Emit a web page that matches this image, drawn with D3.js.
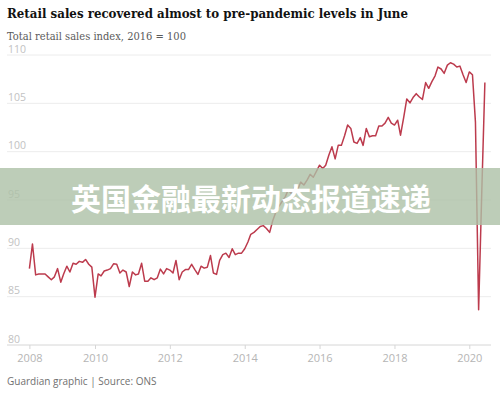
<!DOCTYPE html>
<html>
  <head>
    <meta charset="utf-8">
    <title>Retail sales</title>
    <style>
      body { margin: 0; background: #fff; }
      svg { display: block; }
    </style>
  </head>
  <body>
    <svg width="500" height="394"></svg>
    <script src="https://d3js.org/d3.v7.min.js"></script>
    <script>

    // monthly index values, first point is April 2008
    var startDate = new Date(2008, 3, 1);
    var salesIndex = [
      87.85, 90.4, 87.2, 87.3, 87.3, 87.3, 87.0, 86.7, 87.0,                  // 2008 (Apr-Dec)
      87.85, 86.45, 87.3, 88.1, 87.5, 88.4, 88.3, 88.6, 88.5, 88.8, 88.3, 88.0, // 2009
      84.9, 87.3, 87.1, 87.6, 87.7, 87.85, 88.35, 88.3, 87.4, 87.7, 87.5, 86.0, // 2010
      87.5, 87.2, 87.3, 88.4, 86.55, 86.55, 86.9, 86.7, 86.9, 87.8, 87.3, 87.85, // 2011
      87.7, 87.4, 88.7, 86.7, 87.5, 87.75, 87.75, 88.3, 87.75, 87.25, 88.1, 87.9, // 2012
      88.0, 89.2, 87.4, 87.25, 88.7, 89.3, 89.45, 89.0, 89.9, 89.3, 89.45, 89.45, // 2013
      89.9, 90.6, 91.4, 91.6, 91.9, 92.2, 92.3, 92.0, 91.6, 92.8, 93.7, 94.3,   // 2014
      94.8, 95.3, 96.0, 95.6, 96.3, 96.0, 96.8, 96.5, 97.0, 97.6, 97.3, 97.9,   // 2015
      98.55, 98.2, 98.55, 99.6, 100.45, 99.2, 100.6, 100.6, 101.6, 102.7, 102.35, 100.95, // 2016
      100.8, 101.4, 100.6, 102.35, 101.5, 101.6, 101.6, 102.6, 102.6, 102.9, 103.5, 102.9, // 2017
      102.7, 103.2, 101.65, 103.5, 105.4, 105.0, 105.55, 105.95, 105.6, 105.35, 107.1, 106.5, // 2018
      107.2, 107.8, 108.7, 108.5, 108.05, 108.9, 109.15, 109.0, 108.7, 108.8, 107.9, 107.1, // 2019
      108.2, 107.9, 103.0, 83.6, 95.5, 107.1                                   // 2020 (Jan-Jun)
    ];
    var yTicks = [80, 85, 90, 95, 100, 105, 110];
    var xTickYears = [2010, 2012, 2014, 2016, 2018, 2020];

    var title = "Retail sales recovered almost to pre-pandemic levels in June";
    var subtitle = "Total retail sales index, 2016 = 100";
    var source = "Guardian graphic | Source: ONS";
    var banner = "英国金融最新动态报道速递";

    var data = salesIndex.map(function(v, i) {
      return { date: d3.timeMonth.offset(startDate, i), value: v };
    });

    var svg = d3.select("svg");

    var x = d3.scaleTime()
        .domain([new Date(2010, 0, 1), new Date(2020, 0, 1)])
        .range([95, 469.3]);

    var y = d3.scaleLinear()
        .domain([80, 110])
        .range([344.5, 54.5]);

    var left = 7, right = 491;

    // gridlines + y labels
    var grid = svg.append("g");
    grid.selectAll("line")
      .data(yTicks.filter(function(d) { return d > 80; }))
      .enter().append("line")
        .attr("x1", left).attr("x2", right)
        .attr("y1", function(d) { return y(d) + 0.5; })
        .attr("y2", function(d) { return y(d) + 0.5; })
        .attr("stroke", "#ececec");

    grid.selectAll("text")
      .data(yTicks)
      .enter().append("text")
        .attr("x", 8)
        .attr("y", function(d) { return y(d) - 2; })
        .attr("font-family", "Open Sans, sans-serif")
        .attr("font-size", 10.5)
        .attr("fill", "#c2c2c2")
        .text(function(d) { return d; });

    // x axis (first tick sits at the start of the data)
    var xTicks = [startDate].concat(xTickYears.map(function(yr) { return new Date(yr, 0, 1); }));
    var xAxis = svg.append("g")
        .attr("transform", "translate(0," + (y(80) + 0.5) + ")")
        .call(d3.axisBottom(x).tickValues(xTicks).tickFormat(d3.timeFormat("%Y")).tickSize(4).tickPadding(5));
    xAxis.select(".domain").attr("d", "M" + left + ",0H" + right).attr("stroke", "#d6d6d6");
    xAxis.selectAll(".tick line").attr("stroke", "#d6d6d6");
    xAxis.selectAll("text")
        .attr("font-family", "Open Sans, sans-serif")
        .attr("font-size", 11)
        .attr("fill", "#b5b5b5");

    // the series
    var line = d3.line()
        .x(function(d) { return x(d.date); })
        .y(function(d) { return y(d.value); });

    svg.append("path")
        .attr("d", line(data))
        .attr("fill", "none")
        .attr("stroke", "#bc3b4d")
        .attr("stroke-width", 1.5)
        .attr("stroke-linejoin", "round");

    // titles
    svg.append("text")
        .attr("x", 7).attr("y", 18)
        .attr("font-family", "DejaVu Serif, serif")
        .attr("font-weight", "bold")
        .attr("font-size", 13.5)
        .attr("fill", "#121212")
        .attr("textLength", 401)
        .attr("lengthAdjust", "spacingAndGlyphs")
        .text(title);

    svg.append("text")
        .attr("x", 7).attr("y", 40)
        .attr("font-family", "DejaVu Serif, serif")
        .attr("font-size", 11)
        .attr("fill", "#5a5a5a")
        .attr("textLength", 179)
        .attr("lengthAdjust", "spacingAndGlyphs")
        .text(subtitle);

    svg.append("text")
        .attr("x", 7).attr("y", 385)
        .attr("font-family", "Open Sans, sans-serif")
        .attr("font-size", 10)
        .attr("fill", "#707070")
        .text(source);

    // overlay banner
    svg.append("rect")
        .attr("x", 0).attr("y", 168)
        .attr("width", 500).attr("height", 57)
        .attr("fill", "rgb(172,192,166)")
        .attr("fill-opacity", 0.8);

    svg.append("text")
        .attr("x", 251).attr("y", 197)
        .attr("text-anchor", "middle")
        .attr("dominant-baseline", "central")
        .attr("font-family", "Noto Sans CJK SC, sans-serif")
        .attr("font-weight", "bold")
        .attr("font-size", 30)
        .attr("fill", "#fff")
        .text(banner);

    </script>
  </body>
</html>
